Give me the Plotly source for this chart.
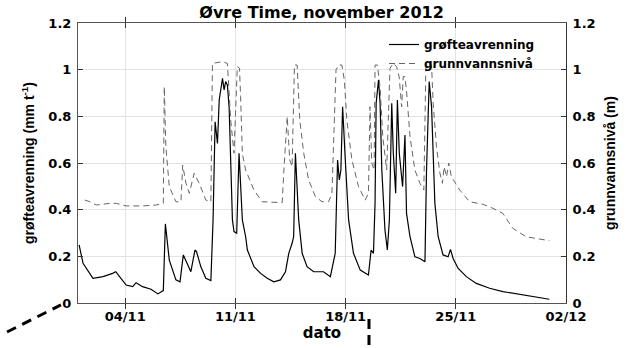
import pandas as pd
import plotly.graph_objects as go

# Days since 2012-11-01 00:00 and values
runoff_days = [0.07, 0.32, 0.95, 1.59, 2.2, 2.4, 2.64, 3.06, 3.48, 3.69, 4.1, 4.64, 5.07, 5.42,
               5.55, 5.8, 6.22, 6.48, 6.69, 6.96, 7.17, 7.43, 7.53, 7.8, 8.12, 8.44, 8.58, 8.71,
               8.86, 8.97, 9.18, 9.28, 9.38, 9.49, 9.6, 9.81, 9.91, 10.08, 10.23, 10.44, 10.65,
               10.76, 11.18, 11.6, 12.02, 12.44, 12.86, 13.18, 13.39, 13.6, 13.7, 13.81, 14.02,
               14.24, 14.55, 14.97, 15.6, 16.03, 16.34, 16.49, 16.6, 16.7, 16.81, 16.98, 17.19,
               17.5, 17.93, 18.45, 18.62, 18.77, 18.87, 18.94, 19.09, 19.19, 19.3, 19.5, 19.65,
               19.78, 19.93, 20.03, 20.18, 20.29, 20.41, 20.62, 20.77, 20.87, 21.09, 21.4, 21.72,
               22.04, 22.14, 22.31, 22.46, 22.67, 22.88, 23.19, 23.51, 23.66, 23.83, 24.14,
               24.67, 25.3, 26.15, 26.99, 27.83, 28.89, 29.94]
runoff_vals = [0.249, 0.17, 0.106, 0.113, 0.127, 0.134, 0.113, 0.077, 0.07, 0.087, 0.07, 0.059,
               0.039, 0.053, 0.339, 0.184, 0.099, 0.091, 0.206, 0.163, 0.134, 0.227, 0.22, 0.156,
               0.106, 0.096, 0.356, 0.777, 0.684, 0.87, 0.963, 0.913, 0.949, 0.934, 0.84, 0.356,
               0.306, 0.299, 0.642, 0.356, 0.284, 0.227, 0.156, 0.127, 0.106, 0.091, 0.099,
               0.134, 0.213, 0.256, 0.284, 0.642, 0.356, 0.213, 0.156, 0.134, 0.134, 0.113,
               0.213, 0.613, 0.527, 0.57, 0.841, 0.613, 0.356, 0.213, 0.141, 0.12, 0.227, 0.213,
               0.427, 0.856, 0.956, 0.856, 0.57, 0.313, 0.227, 0.356, 0.856, 0.642, 0.47, 0.87,
               0.642, 0.499, 0.72, 0.384, 0.284, 0.198, 0.191, 0.177, 0.57, 0.949, 0.841, 0.427,
               0.284, 0.206, 0.198, 0.23, 0.191, 0.149, 0.113, 0.084, 0.063, 0.049, 0.039,
               0.027, 0.016]

gw_days = [0.43, 0.75, 1.16, 2.01, 2.43, 3.06, 4.1, 4.96, 5.42, 5.48, 5.58, 5.8, 6.22, 6.54,
           6.65, 6.86, 7.07, 7.38, 7.7, 8.12, 8.44, 8.54, 9.17, 9.49, 9.7, 9.91, 10.12, 10.26,
           10.33, 10.44, 10.65, 11.18, 11.7, 12.97, 13.08, 13.29, 13.45, 13.6, 13.75, 13.92,
           14.09, 14.34, 14.65, 15.08, 15.5, 15.92, 16.13, 16.3, 16.39, 16.55, 16.76, 16.92,
           17.08, 17.4, 17.82, 18.24, 18.45, 18.55, 18.66, 18.81, 18.87, 19.02, 19.19, 19.36,
           19.61, 19.71, 19.82, 20.03, 20.24, 20.4, 20.56, 20.66, 20.77, 20.88, 21.09, 21.4,
           21.72, 21.97, 22.1, 22.25, 22.46, 22.56, 22.77, 22.99, 23.15, 23.26, 23.41, 23.55,
           23.72, 24.25, 24.88, 25.72, 26.35, 26.99, 27.62, 28.47, 29.31, 29.94]
gw_vals = [0.441, 0.434, 0.42, 0.427, 0.427, 0.416, 0.416, 0.42, 0.427, 0.927, 0.67, 0.499,
           0.434, 0.434, 0.591, 0.513, 0.47, 0.556, 0.513, 0.441, 0.434, 1.027, 1.034, 1.027,
           0.784, 0.642, 1.013, 1.006, 0.884, 0.64, 0.57, 0.484, 0.434, 0.43, 0.57, 0.799,
           0.613, 0.584, 1.02, 1.02, 0.784, 0.642, 0.527, 0.456, 0.434, 0.434, 0.47, 0.784,
           0.999, 1.02, 1.02, 0.956, 0.784, 0.613, 0.499, 0.441, 0.47, 0.841, 0.6, 0.57, 1.02,
           1.02, 0.927, 0.713, 0.57, 0.784, 1.006, 1.027, 1.013, 0.97, 0.841, 0.97, 0.97, 0.9,
           0.713, 0.57, 0.513, 0.484, 1.02, 1.027, 1.02, 0.856, 0.67, 0.556, 0.513, 0.584,
           0.541, 0.6, 0.541, 0.484, 0.434, 0.423, 0.406, 0.384, 0.32, 0.284, 0.273, 0.267]

tick_dates = ["2012-11-04", "2012-11-11", "2012-11-18", "2012-11-25", "2012-12-02"]
tick_labels = ["04/11", "11/11", "18/11", "25/11", "02/12"]
y_ticks = [0, 0.2, 0.4, 0.6, 0.8, 1, 1.2]
y_ticklabels = ["0", "0.2", "0.4", "0.6", "0.8", "1", "1.2"]

t0 = pd.Timestamp("2012-11-01")
runoff_t = [t0 + pd.Timedelta(days=d) for d in runoff_days]
gw_t = [t0 + pd.Timedelta(days=d) for d in gw_days]

FONT = "DejaVu Sans"
TFONT = "Liberation Sans"
fig = go.Figure()
fig.add_trace(go.Scatter(x=runoff_t, y=runoff_vals, mode="lines", name="<b>grøfteavrenning</b>",
                         line=dict(color="black", width=1.2)))
fig.add_trace(go.Scatter(x=gw_t, y=gw_vals, mode="lines", name="<b>grunnvannsnivå</b>", yaxis="y2",
                         line=dict(color="#666666", width=1, dash="6px,4px")))

axis_font = dict(family=FONT, size=13, color="black")
fig.update_layout(
    width=633, height=348,
    margin=dict(l=78, r=67, t=23, b=45, autoexpand=False),
    paper_bgcolor="white", plot_bgcolor="white",
    title=dict(text="<b>Øvre Time, november 2012</b>", x=0.508, xanchor="center",
               y=0.965, yanchor="middle", font=dict(family=FONT, size=16, color="black")),
    showlegend=True,
    legend=dict(x=0.627, y=0.975, xanchor="left", yanchor="top", bgcolor="rgba(0,0,0,0)",
                font=dict(family=FONT, size=12, color="black"), tracegroupgap=0,
                itemwidth=30),
    xaxis=dict(type="date", range=["2012-11-01", "2012-12-02"], automargin=False,
               tickvals=tick_dates, ticktext=["<b>%s</b>" % s for s in tick_labels],
               tickfont=axis_font, ticks="inside", ticklen=5, tickcolor="#333",
               showline=True, linecolor="#555", mirror="allticks",
               showgrid=True, gridcolor="#e3e3e3", zeroline=False, ticklabelstandoff=1,
               title=dict(text="<b>dato</b>", font=dict(family=FONT, size=15, color="black"),
                          standoff=0)),
    yaxis=dict(range=[0, 1.2], tickvals=y_ticks, ticktext=["<b>%s</b>" % s for s in y_ticklabels],
               tickfont=axis_font, ticks="inside", ticklen=5, tickcolor="#333", automargin=False,
               showline=True, linecolor="#555", showgrid=True, gridcolor="#e3e3e3",
               zeroline=False, ticklabelstandoff=3,
               title=dict(text="<b>grøfteavrenning (mm t<sup>-1</sup>)</b>",
                          font=dict(family=TFONT, size=14, color="black"), standoff=10)),
    yaxis2=dict(range=[0, 1.2], overlaying="y", side="right", tickvals=y_ticks,
                ticktext=["<b>%s</b>" % s for s in y_ticklabels], automargin=False,
                tickfont=axis_font, ticks="inside", ticklen=5, tickcolor="#333",
                showline=True, linecolor="#333", showgrid=False, zeroline=False,
                ticklabelstandoff=3,
                title=dict(text="<b>grunnvannsnivå (m)</b>",
                           font=dict(family=TFONT, size=14, color="black"), standoff=10)),
)

# stray dashed marks outside the axes in the reference
fig.add_shape(type="line", xref="paper", yref="paper", x0=-0.1455, y0=-0.1036, x1=-0.035, y1=-0.007,
              line=dict(color="black", width=3, dash="10px,7px"))
fig.add_shape(type="line", xref="paper", yref="paper", x0=0.5963, y0=-0.057, x1=0.5963, y1=-0.17,
              line=dict(color="black", width=3, dash="10px,6px"))

fig.write_html("out.html")
